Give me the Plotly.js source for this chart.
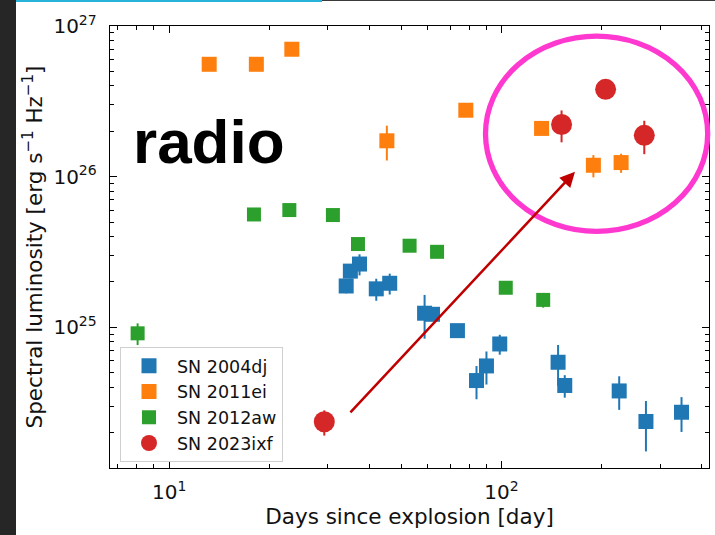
<!DOCTYPE html>
<html>
<head>
<meta charset="utf-8">
<script src="https://cdn.plot.ly/plotly-3.0.1.min.js"></script>
<style>
  html, body { margin: 0; padding: 0; background: #ffffff; }
  #wrap { position: relative; width: 715px; height: 535px; overflow: hidden; }
  #chart { position: absolute; left: 0; top: 0; width: 715px; height: 535px; }
  .edge { position: absolute; pointer-events: none; }
</style>
</head>
<body>
<div id="wrap">
  <div id="chart"></div>
  <div class="edge" style="left:0;top:0;width:16px;height:535px;background:#262626;"></div>
  <div class="edge" style="left:16px;top:0;width:306px;height:2px;background:#27b2da;"></div>
  <div class="edge" style="left:322px;top:0;width:393px;height:1px;background:#3a3a3a;"></div>
</div>
<script>
// Radio spectral luminosity light curves (days since explosion vs. L_nu)

// SN 2004dj
const dj_days = [34.1, 35.1, 37.4, 42.0, 46.1, 58.7, 62.0, 73.7, 84.1, 90.1, 98.8, 148, 155, 226, 272, 348];
const dj_lum  = [1.88e25, 2.36e25, 2.63e25, 1.80e25, 1.96e25, 1.24e25, 1.22e25, 9.5e24,
                 4.43e24, 5.54e24, 7.75e24, 5.86e24, 4.11e24, 3.78e24, 2.37e24, 2.73e24];
const dj_err  = [0.2e25, 0.25e25, 0.42e25, 0.3e25, 0.31e25, 0.4e25, 0.1e25, 0.5e24,
                 1.1e24, 1.37e24, 1.17e24, 1.77e24, 0.7e24, 0.95e24, 0.87e24, 0.71e24];

// SN 2011ei
const ei_days = [13.2, 18.3, 23.4, 45.2, 78.1, 132, 189, 229];
const ei_lum  = [5.57e26, 5.57e26, 7.01e26, 1.73e26, 2.76e26, 2.09e26, 1.19e26, 1.24e26];
const ei_err  = [0, 0, 0, 0.45e26, 0, 0, 0.2e26, 0.18e26];

// SN 2012aw
const aw_days = [8.04, 18.0, 23.0, 31.1, 37.0, 52.9, 64.0, 103, 133.5];
const aw_lum  = [9.12e24, 5.61e25, 6.0e25, 5.56e25, 3.57e25, 3.48e25, 3.17e25, 1.83e25, 1.52e25];
const aw_err  = [1.5e24, 0, 0, 0, 0, 0, 0, 0, 0.17e25];

// SN 2023ixf
const ixf_days = [29.3, 151.6, 205.7, 268.9];
const ixf_lum  = [2.36e24, 2.22e26, 3.80e26, 1.88e26];
const ixf_err  = [0.45e24, 0.53e26, 0.3e26, 0.47e26];

// Axis tick labels
const xTickVals = [10, 100];
const xTickText = ['10<sup>1</sup>', '10<sup>2</sup>'];
const yTickVals = [1e25, 1e26, 1e27];
const yTickText = ['10<sup>25</sup>', '10<sup>26</sup>', '10<sup>27</sup>'];

// minor ticks at 2..9 of every decade
function minorTicks(lo, hi) {
  const out = [];
  for (let p = lo; p <= hi; p++) {
    for (let m = 2; m <= 9; m++) out.push(m * Math.pow(10, p));
  }
  return out;
}

const FONT = 'DejaVu Sans, Verdana, sans-serif';

function series(name, x, y, err, color, symbol, size) {
  return {
    type: 'scatter', mode: 'markers', name: name,
    x: x, y: y,
    marker: { symbol: symbol, size: size, color: color, line: { width: 0 } },
    error_y: { type: 'data', array: err, visible: true, color: color, thickness: 2, width: 0 },
    cliponaxis: true
  };
}

const traces = [
  series('SN 2004dj', dj_days, dj_lum, dj_err, '#1f77b4', 'square', 15),
  series('SN 2011ei', ei_days, ei_lum, ei_err, '#ff7f0e', 'square', 15),
  series('SN 2012aw', aw_days, aw_lum, aw_err, '#2ca02c', 'square', 14),
  series('SN 2023ixf', ixf_days, ixf_lum, ixf_err, '#d62728', 'circle', 21)
];

const axisCommon = {
  type: 'log',
  showgrid: false, zeroline: false,
  showline: true, linecolor: '#000', linewidth: 1.3, mirror: 'ticks',
  ticks: 'inside', ticklen: 7, tickwidth: 1, tickcolor: '#000',
  tickmode: 'array',
  tickfont: { family: FONT, size: 20, color: '#111' }
};

const layout = {
  width: 715, height: 535,
  margin: { l: 110, r: 6, t: 26, b: 67 },
  paper_bgcolor: '#ffffff', plot_bgcolor: '#ffffff',
  showlegend: true,
  xaxis: Object.assign({}, axisCommon, {
    range: [Math.log10(6.64), Math.log10(421)],
    tickvals: xTickVals, ticktext: xTickText,
    ticklabelstandoff: 6,
    minor: { tickmode: 'array', tickvals: minorTicks(0, 2), ticks: 'inside', ticklen: 4,
             tickwidth: 1, tickcolor: '#000', showgrid: false },
    title: { text: 'Days since explosion [day]', font: { family: FONT, size: 21.5, color: '#111' }, standoff: 3 }
  }),
  yaxis: Object.assign({}, axisCommon, {
    range: [24.066, 27.0],
    tickvals: yTickVals, ticktext: yTickText,
    ticklabelstandoff: 8,
    minor: { tickmode: 'array', tickvals: minorTicks(24, 26), ticks: 'inside', ticklen: 4,
             tickwidth: 1, tickcolor: '#000', showgrid: false },
    title: { text: 'Spectral luminosity [erg s<sup>\u22121</sup> Hz<sup>\u22121</sup>]',
             font: { family: FONT, size: 21.5, color: '#111' }, standoff: 5 }
  }),
  legend: {
    x: 0.0167, y: 0.274, xanchor: 'left', yanchor: 'top',
    bgcolor: 'rgba(255,255,255,0.85)', bordercolor: '#cfcfcf', borderwidth: 1,
    font: { family: FONT, size: 17.5, color: '#111' },
    itemwidth: 46, traceorder: 'normal'
  },
  shapes: [
    // highlight ring around the late-time points
    { type: 'circle', xref: 'paper', yref: 'paper',
      x0: 0.6269, x1: 0.9978, y0: 0.5354, y1: 0.9772,
      line: { color: '#ff38d0', width: 5.3 }, fillcolor: 'rgba(0,0,0,0)' }
  ],
  annotations: [
    { text: 'radio', xref: 'paper', yref: 'paper', x: 0.165, y: 0.738,
      xanchor: 'center', yanchor: 'middle', showarrow: false,
      font: { family: 'Liberation Sans, Arial, sans-serif', size: 62, color: '#000', weight: 'bold' } },
    { text: '', xref: 'paper', yref: 'paper', x: 0.7763, y: 0.6700,
      showarrow: true, ax: -226, ay: 242, axref: 'pixel', ayref: 'pixel',
      arrowhead: 2, arrowsize: 1.2, arrowwidth: 2.5, arrowcolor: '#c00000', standoff: 0 }
  ]
};

Plotly.newPlot('chart', traces, layout, { displayModeBar: false, staticPlot: true });
</script>
</body>
</html>
